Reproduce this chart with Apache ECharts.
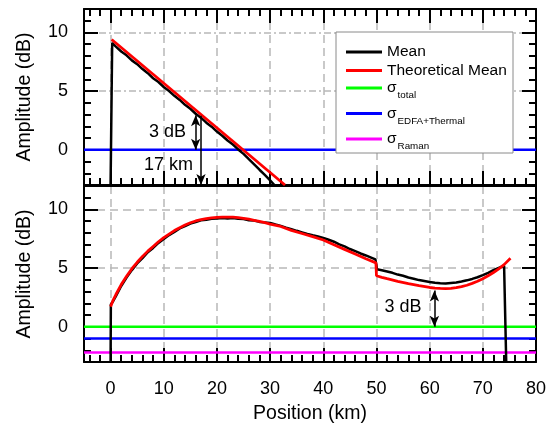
<!DOCTYPE html>
<html>
<head>
<meta charset="utf-8">
<script src="https://cdn.jsdelivr.net/npm/echarts@6.0.0/dist/echarts.min.js"></script>
<style>
  html, body { margin: 0; padding: 0; background: #fff; }
  #chart { width: 552px; height: 424px; }
</style>
</head>
<body>
<div id="chart"></div>
<script>
// axis ranges (both panels share them)
const xRange = [-5, 80];
const yRange = [-3, 12];

// top panel: measured mean and theoretical mean
const meanTopX = [0, 0.3, 1, 2, 3, 4, 5, 6, 7, 8, 9, 10, 11, 12, 13, 14, 15, 16, 17, 18, 19, 20,
  21, 22, 23, 24, 25, 26, 27, 28, 29, 30, 30.8];
const meanTopY = [-3, 9.1, 8.8, 8.38, 8.05, 7.62, 7.3, 6.88, 6.53, 6.1, 5.78, 5.35, 5.01, 4.6, 4.25,
  3.83, 3.5, 3.07, 2.74, 2.31, 1.97, 1.55, 1.2, 0.79, 0.45, 0.03, -0.35, -0.8, -1.24, -1.7, -2.14, -2.6, -3];
const theoTopX = [0.2, 32.8];
const theoTopY = [9.4, -3.0];

// bottom panel
const meanBotX = [0, 0.05, 0.5, 1, 2, 3, 4, 5, 6, 7, 8, 9, 10, 11, 12, 13, 14, 15, 16, 17, 18, 19, 20,
  21, 22, 23, 24, 25, 26, 27, 28, 29, 30, 31, 32, 33, 34, 35, 36, 37, 38, 39, 40, 41, 42, 43, 44, 45,
  46, 47, 48, 49, 49.8, 50.1, 51, 52, 53, 54, 55, 56, 57, 58, 59, 60, 61, 62, 63, 64, 65, 66, 67, 68,
  69, 70, 71, 72, 73, 74, 74.35, 74.4];
const meanBotY = [-3, 1.9, 2.2, 2.62, 3.48, 4.2, 4.83, 5.4, 5.86, 6.36, 6.72, 7.15, 7.48, 7.82, 8.08,
  8.38, 8.58, 8.8, 8.93, 9.07, 9.12, 9.2, 9.22, 9.28, 9.24, 9.27, 9.2, 9.18, 9.08, 9.06, 8.94, 8.9,
  8.85, 8.72, 8.6, 8.45, 8.32, 8.18, 8.05, 7.92, 7.8, 7.7, 7.58, 7.42, 7.25, 7.02, 6.85, 6.63, 6.45,
  6.25, 6.08, 5.9, 5.75, 4.9, 4.82, 4.72, 4.6, 4.45, 4.35, 4.2, 4.1, 3.98, 3.9, 3.82, 3.75, 3.72, 3.7,
  3.74, 3.78, 3.86, 3.96, 4.08, 4.22, 4.4, 4.6, 4.82, 5.02, 5.2, 5.25, -3];
const theoBotX = [0, 0.5, 1, 2, 3, 4, 5, 6, 7, 8, 9, 10, 11, 12, 13, 14, 15, 16, 17, 18, 19, 20, 21,
  22, 23, 24, 25, 26, 27, 28, 29, 30, 32, 34, 36, 38, 40, 42, 44, 46, 48, 49.9, 50, 51, 52, 54, 56,
  58, 60, 61, 62, 63, 64, 65, 66, 67, 68, 69, 70, 71, 72, 73, 74, 75.2];
const theoBotY = [1.72, 2.3, 2.75, 3.6, 4.3, 4.95, 5.5, 6.0, 6.45, 6.85, 7.25, 7.6, 7.9, 8.2, 8.45,
  8.68, 8.87, 9.02, 9.13, 9.22, 9.28, 9.32, 9.34, 9.35, 9.34, 9.3, 9.24, 9.17, 9.08, 8.98, 8.87, 8.76,
  8.55, 8.22, 7.95, 7.68, 7.4, 7.0, 6.6, 6.2, 5.8, 5.45, 4.35, 4.22, 4.1, 3.88, 3.68, 3.5, 3.35, 3.3,
  3.27, 3.26, 3.28, 3.33, 3.42, 3.54, 3.7, 3.88, 4.1, 4.35, 4.63, 4.94, 5.3, 5.85];

// noise levels (flat lines)
const sigmaEdfaTop = 0;
const sigmaTotalBot = 0;
const sigmaEdfaBot = -1.0;
const sigmaRamanBot = -2.2;

const zip = (xs, ys) => xs.map((x, i) => [x, ys[i]]);
const flat = v => [[xRange[0], v], [xRange[1], v]];

const FONT = 'Liberation Sans, Arial, sans-serif';
const GRIDC = '#b8b8b8';

const axLine = { show: true, onZero: false, lineStyle: { color: '#000', width: 2 } };
const axTick = { show: true, inside: true, length: 14, lineStyle: { color: '#000', width: 2 } };
const axMinor = { show: true, splitNumber: 5, length: 7, lineStyle: { color: '#000', width: 2 } };
const labelStyle = { color: '#000', fontFamily: FONT, fontSize: 18 };

function xAx(grid, pos, extra) {
  return Object.assign({
    type: 'value', gridIndex: grid, position: pos, min: xRange[0], max: xRange[1], splitNumber: 8,
    axisLine: axLine, axisTick: axTick, minorTick: axMinor,
    axisLabel: { show: false }, splitLine: { show: false }
  }, extra);
}
function yAx(grid, pos, extra) {
  return Object.assign({
    type: 'value', gridIndex: grid, position: pos, min: yRange[0], max: yRange[1], splitNumber: 3,
    axisLine: axLine, axisTick: axTick, minorTick: axMinor,
    axisLabel: { show: false }, splitLine: { show: false }
  }, extra);
}

const yLabel = Object.assign({ show: true, margin: 16, showMinLabel: false, showMaxLabel: false }, labelStyle);
const yName = {
  name: 'Amplitude (dB)', nameLocation: 'middle', nameGap: 49,
  nameTextStyle: { color: '#000', fontFamily: FONT, fontSize: 19.5 }
};

function lineSeries(name, color, data, xi, yi, w) {
  return {
    type: 'line', name: name, data: data, xAxisIndex: xi, yAxisIndex: yi,
    showSymbol: false, symbol: 'none', silent: true,
    lineStyle: { color: color, width: w || 2.5 }, itemStyle: { color: color }
  };
}

const legendText = {
  'Mean': 'Mean',
  'Theoretical Mean': 'Theoretical Mean',
  'σ_total': '{s|σ}{sub|total}',
  'σ_EDFA+Thermal': '{s|σ}{sub|EDFA+Thermal}',
  'σ_Raman': '{s|σ}{sub|Raman}'
};
function legendRow(name, top) {
  return {
    data: [name], left: 346, top: top, padding: 0, z: 10,
    icon: 'rect', itemWidth: 36, itemHeight: 3, selectedMode: false,
    formatter: n => legendText[n],
    textStyle: {
      color: '#000', fontFamily: FONT, fontSize: 15.5,
      rich: {
        s: { fontFamily: FONT, fontSize: 15.5, color: '#000' },
        sub: { fontFamily: FONT, fontSize: 9.8, color: '#000', padding: [15, 0, 0, 1] }
      }
    }
  };
}

const arrowLine = { color: '#000', width: 1.5, type: 'solid' };
const noteLabel = { show: true, position: 'inside', formatter: '{b}', color: '#000', fontFamily: FONT, fontSize: 18 };

const option = {
  animation: false,
  backgroundColor: '#fff',
  grid: [
    { left: 84, right: 16, top: 9, height: 176, containLabel: false, outerBoundsMode: 'none' },
    { left: 84, right: 16, top: 186, height: 176, containLabel: false, outerBoundsMode: 'none' }
  ],
  xAxis: [
    xAx(0, 'bottom', { splitLine: { show: true, lineStyle: { color: GRIDC, width: 1.5, type: [8, 5] } } }),
    xAx(0, 'top'),
    xAx(1, 'bottom', {
      axisLabel: Object.assign({ show: true, margin: 18, showMinLabel: false }, labelStyle),
      splitLine: { show: true, lineStyle: { color: GRIDC, width: 1.5, type: [8, 5] } },
      name: 'Position (km)', nameLocation: 'middle', nameGap: 42,
      nameTextStyle: { color: '#000', fontFamily: FONT, fontSize: 19.5 }
    }),
    xAx(1, 'top', { axisTick: { show: false }, minorTick: { show: false } })
  ],
  yAxis: [
    yAx(0, 'left', Object.assign({
      axisLabel: yLabel,
      splitLine: { show: true, lineStyle: { color: GRIDC, width: 1.5, type: [7, 3, 2, 3] } }
    }, yName)),
    yAx(0, 'right'),
    yAx(1, 'left', Object.assign({
      axisLabel: yLabel,
      splitLine: { show: true, lineStyle: { color: GRIDC, width: 1.5, type: [8, 5] } }
    }, yName)),
    yAx(1, 'right')
  ],
  legend: [
    legendRow('Mean', 44),
    legendRow('Theoretical Mean', 62.5),
    legendRow('σ_total', 80),
    legendRow('σ_EDFA+Thermal', 105.5),
    legendRow('σ_Raman', 131)
  ],
  graphic: [
    { type: 'rect', z: 8, shape: { x: 336, y: 32, width: 177, height: 121 },
      style: { fill: '#fff', stroke: '#8a8a8a', lineWidth: 1 } }
  ],
  series: [
    // top panel
    lineSeries('σ_EDFA+Thermal', '#0000ff', flat(sigmaEdfaTop), 0, 0),
    lineSeries('Mean', '#000000', zip(meanTopX, meanTopY), 0, 0),
    lineSeries('Theoretical Mean', '#ff0000', zip(theoTopX, theoTopY), 0, 0, 2.8),
    {
      type: 'line', name: 'noteTop', data: [], xAxisIndex: 0, yAxisIndex: 0, silent: true,
      markLine: {
        silent: true, symbol: ['arrow', 'arrow'], symbolSize: [7, 11], label: { show: false },
        lineStyle: arrowLine,
        data: [
          [{ coord: [16, 2.95] }, { coord: [16, 0] }],
          [{ coord: [17, 2.9], symbol: 'none' }, { coord: [17, -3] }]
        ]
      },
      markPoint: {
        silent: true, symbol: 'circle', symbolSize: 0, label: noteLabel,
        data: [
          { name: '3 dB', coord: [10.7, 1.5] },
          { name: '17 km', coord: [10.9, -1.3] }
        ]
      }
    },
    // bottom panel
    lineSeries('σ_total', '#00ff00', flat(sigmaTotalBot), 2, 2),
    lineSeries('σ_EDFA+Thermal', '#0000ff', flat(sigmaEdfaBot), 2, 2),
    lineSeries('σ_Raman', '#ff00ff', flat(sigmaRamanBot), 2, 2),
    lineSeries('Mean', '#000000', zip(meanBotX, meanBotY), 2, 2),
    lineSeries('Theoretical Mean', '#ff0000', zip(theoBotX, theoBotY), 2, 2, 2.8),
    {
      type: 'line', name: 'noteBot', data: [], xAxisIndex: 2, yAxisIndex: 2, silent: true,
      markLine: {
        silent: true, symbol: ['arrow', 'arrow'], symbolSize: [7, 11], label: { show: false },
        lineStyle: arrowLine,
        data: [[{ coord: [60.9, 3.1] }, { coord: [60.9, 0] }]]
      },
      markPoint: {
        silent: true, symbol: 'circle', symbolSize: 0, label: noteLabel,
        data: [{ name: '3 dB', coord: [55, 1.65] }]
      }
    }
  ]
};

const chart = echarts.init(document.getElementById('chart'));
chart.setOption(option);
window.addEventListener('resize', () => chart.resize());
</script>
</body>
</html>
